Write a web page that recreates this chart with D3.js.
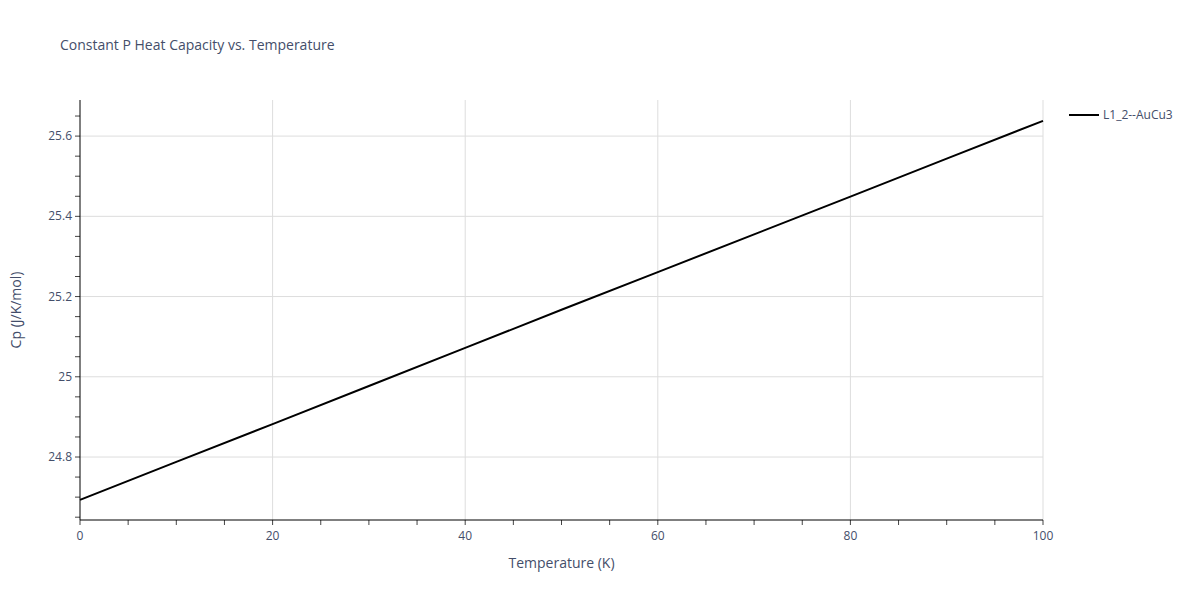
<!DOCTYPE html>
<html><head><meta charset="utf-8">
<script src="https://cdn.jsdelivr.net/npm/d3@7"></script>
<style>body{margin:0;background:#fff}text{font-family:"Open Sans",sans-serif}</style>
</head><body><svg id="c" width="1200" height="600"></svg>
<script>
var temps = [0, 10, 20, 30, 40, 50, 60, 70, 80, 90, 100];
var cp = [24.693, 24.788, 24.882, 24.977, 25.072, 25.167, 25.261, 25.355, 25.449, 25.544, 25.638];
var xTicks = [0, 20, 40, 60, 80, 100];
var yTicks = [24.8, 25, 25.2, 25.4, 25.6];
var seriesName = "L1_2--AuCu3";

var svg = d3.select("#c");
var mLeft = 80, mRight = 1043, mTop = 100, mBottom = 520;
var x = d3.scaleLinear().domain([0, 100]).range([mLeft, mRight]);
var y = d3.scaleLinear().domain([24.643, 25.690]).range([mBottom, mTop]);
var grid = "#dddddd", txt = "#444e6a";

svg.append("g").selectAll("line").data(xTicks.slice(1)).enter().append("line")
  .attr("x1", d => x(d)).attr("x2", d => x(d)).attr("y1", mTop).attr("y2", mBottom)
  .attr("stroke", grid);
svg.append("g").selectAll("line").data(yTicks).enter().append("line")
  .attr("x1", mLeft).attr("x2", mRight).attr("y1", d => y(d)).attr("y2", d => y(d))
  .attr("stroke", grid);

// minor ticks
var xm = d3.range(0, 101, 5), ym = d3.range(24.65, 25.69, 0.05);
svg.append("g").selectAll("line").data(xm).enter().append("line")
  .attr("x1", d => x(d)).attr("x2", d => x(d)).attr("y1", mBottom).attr("y2", mBottom + 5)
  .attr("stroke", "#444");
svg.append("g").selectAll("line").data(ym).enter().append("line")
  .attr("x1", mLeft - 5).attr("x2", mLeft).attr("y1", d => y(d)).attr("y2", d => y(d))
  .attr("stroke", "#444");

svg.append("line").attr("x1", mLeft).attr("x2", mRight).attr("y1", mBottom).attr("y2", mBottom).attr("stroke", "#000");
svg.append("line").attr("x1", mLeft).attr("x2", mLeft).attr("y1", mTop).attr("y2", mBottom).attr("stroke", "#000");

svg.append("g").selectAll("text").data(xTicks).enter().append("text")
  .attr("x", d => x(d)).attr("y", mBottom + 20).attr("text-anchor", "middle")
  .attr("font-size", 12).attr("fill", txt).text(d => d);
svg.append("g").selectAll("text").data(yTicks).enter().append("text")
  .attr("x", mLeft - 8).attr("y", d => y(d) + 4).attr("text-anchor", "end")
  .attr("font-size", 12).attr("fill", txt).text(d => d3.format("")(d));

svg.append("path").datum(d3.zip(temps, cp))
  .attr("d", d3.line().x(d => x(d[0])).y(d => y(d[1])))
  .attr("fill", "none").attr("stroke", "#000").attr("stroke-width", 2);

svg.append("text").attr("x", 60).attr("y", 50).attr("font-size", 14).attr("fill", txt)
  .text("Constant P Heat Capacity vs. Temperature");
svg.append("text").attr("x", (mLeft + mRight) / 2).attr("y", 568).attr("text-anchor", "middle")
  .attr("font-size", 14).attr("fill", txt).text("Temperature (K)");
svg.append("text").attr("transform", "translate(21," + (mTop + mBottom) / 2 + ") rotate(-90)")
  .attr("text-anchor", "middle").attr("font-size", 14).attr("fill", txt).text("Cp (J/K/mol)");

svg.append("line").attr("x1", 1069).attr("x2", 1099).attr("y1", 115).attr("y2", 115)
  .attr("stroke", "#000").attr("stroke-width", 2);
svg.append("text").attr("x", 1103).attr("y", 119).attr("font-size", 12).attr("fill", txt).text(seriesName);
</script></body></html>
